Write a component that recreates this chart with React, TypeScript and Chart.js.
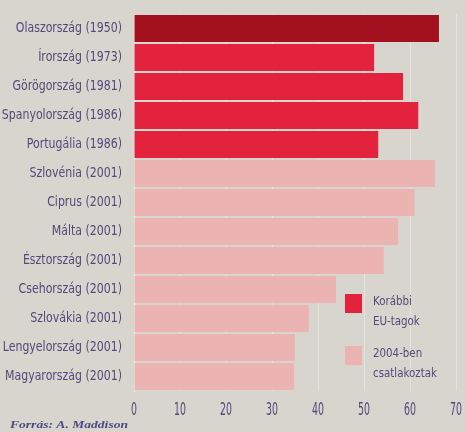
import React, { useEffect, useRef } from "react";
import { Chart, registerables } from "chart.js";

Chart.register(...registerables);

const countries = [
  "Olaszország (1950)",
  "Írország (1973)",
  "Görögország (1981)",
  "Spanyolország (1986)",
  "Portugália (1986)",
  "Szlovénia (2001)",
  "Ciprus (2001)",
  "Málta (2001)",
  "Észtország (2001)",
  "Csehország (2001)",
  "Szlovákia (2001)",
  "Lengyelország (2001)",
  "Magyarország (2001)",
];
const values = [66.3, 52.2, 58.5, 61.8, 53.1, 65.4, 61.0, 57.4, 54.3, 43.9, 38.0, 35.0, 34.8];
const groups = ["first", "old", "old", "old", "old", "new", "new", "new", "new", "new", "new", "new", "new"];
const xTicks = [0, 10, 20, 30, 40, 50, 60, 70];
const legendLabels = [["Korábbi", "EU-tagok"], ["2004-ben", "csatlakoztak"]];
const sourceText = "Forrás: A. Maddison";

const COLORS: Record<string, string> = { first: "#a3111f", old: "#e3233d", new: "#ebb3b1" };
const FAMILY = "'DejaVu Sans', sans-serif";
const TEXT = "#524b7a";

// draw horizontally condensed text so that a reference string has a target width
function condensedText(ctx: any, text: string, x: number, y: number, font: string, sx: number, align: string) {
  ctx.save();
  ctx.font = font;
  ctx.textBaseline = "middle";
  ctx.textAlign = align;
  ctx.translate(x, y);
  ctx.scale(sx, 1);
  ctx.fillText(text, 0, 0);
  ctx.restore();
}

export default function App() {
  const ref = useRef<HTMLCanvasElement | null>(null);
  useEffect(() => {
    if (!ref.current) return;
    const extras = {
      id: "extras",
      afterDraw(chart: any) {
        const ctx = chart.ctx;
        const xs = chart.scales.x;
        const ys = chart.scales.y;
        ctx.save();
        ctx.fillStyle = TEXT;
        // y labels
        const yFont = `14px ${FAMILY}`;
        ctx.font = yFont;
        const yFactor = 117 / ctx.measureText("Magyarország (2001)").width;
        countries.forEach((c, i) => {
          condensedText(ctx, c, 122, ys.getPixelForTick(i), yFont, yFactor, "right");
        });
        // x labels
        const xFont = `18px ${FAMILY}`;
        ctx.font = xFont;
        const xFactor = 12 / ctx.measureText("70").width;
        xTicks.forEach((v) => {
          condensedText(ctx, String(v), xs.getPixelForValue(v), 410, xFont, xFactor, "center");
        });
        // legend
        const items = [COLORS.old, COLORS.new];
        const sq = [294, 346];
        const lFont = `13px ${FAMILY}`;
        ctx.font = lFont;
        const lFactor = 64 / ctx.measureText("csatlakoztak").width;
        items.forEach((c, i) => {
          ctx.fillStyle = c;
          ctx.fillRect(345, sq[i], 17, 19);
          ctx.fillStyle = TEXT;
          condensedText(ctx, legendLabels[i][0], 373, sq[i] + 8, lFont, lFactor, "left");
          condensedText(ctx, legendLabels[i][1], 373, sq[i] + 28, lFont, lFactor, "left");
        });
        // source
        const sFont = "italic bold 11px 'Liberation Serif', serif";
        ctx.font = sFont;
        const sFactor = 118 / ctx.measureText(sourceText).width;
        ctx.fillStyle = "#4a4a82";
        condensedText(ctx, sourceText, 10, 425, sFont, sFactor, "left");
        ctx.restore();
      },
    };
    const noPad = (s: any) => {
      s.paddingTop = 0;
      s.paddingBottom = 0;
      s.paddingLeft = 0;
      s.paddingRight = 0;
    };
    const chart = new Chart(ref.current, {
      type: "bar",
      data: {
        labels: countries,
        datasets: [
          {
            data: values,
            backgroundColor: groups.map((g) => COLORS[g]),
            barPercentage: 0.93,
            categoryPercentage: 1,
          },
        ],
      },
      options: {
        indexAxis: "y",
        animation: false,
        responsive: false,
        layout: { padding: { left: 3, right: 9, top: 14, bottom: 0 } },
        plugins: { legend: { display: false }, tooltip: { enabled: false } },
        scales: {
          x: {
            min: 0,
            max: 70,
            afterBuildTicks: (s: any) => {
              s.ticks = xTicks.map((v) => ({ value: v }));
            },
            afterFit: (s: any) => {
              s.height = 41;
              noPad(s);
            },
            grid: { color: "rgba(255,255,255,0.35)", drawTicks: false },
            border: { display: false },
            ticks: { display: false },
          },
          y: {
            afterFit: (s: any) => {
              s.width = 131;
              noPad(s);
            },
            grid: { display: false },
            border: { display: true, color: "rgba(255,255,255,0.5)" },
            ticks: { display: false },
          },
        },
      },
      plugins: [extras],
    });
    return () => chart.destroy();
  }, []);
  return (
    <div style={{ position: "fixed", left: 0, top: 0, width: 465, height: 432, background: "#d8d4ce" }}>
      <canvas ref={ref} width={465} height={432} />
    </div>
  );
}
